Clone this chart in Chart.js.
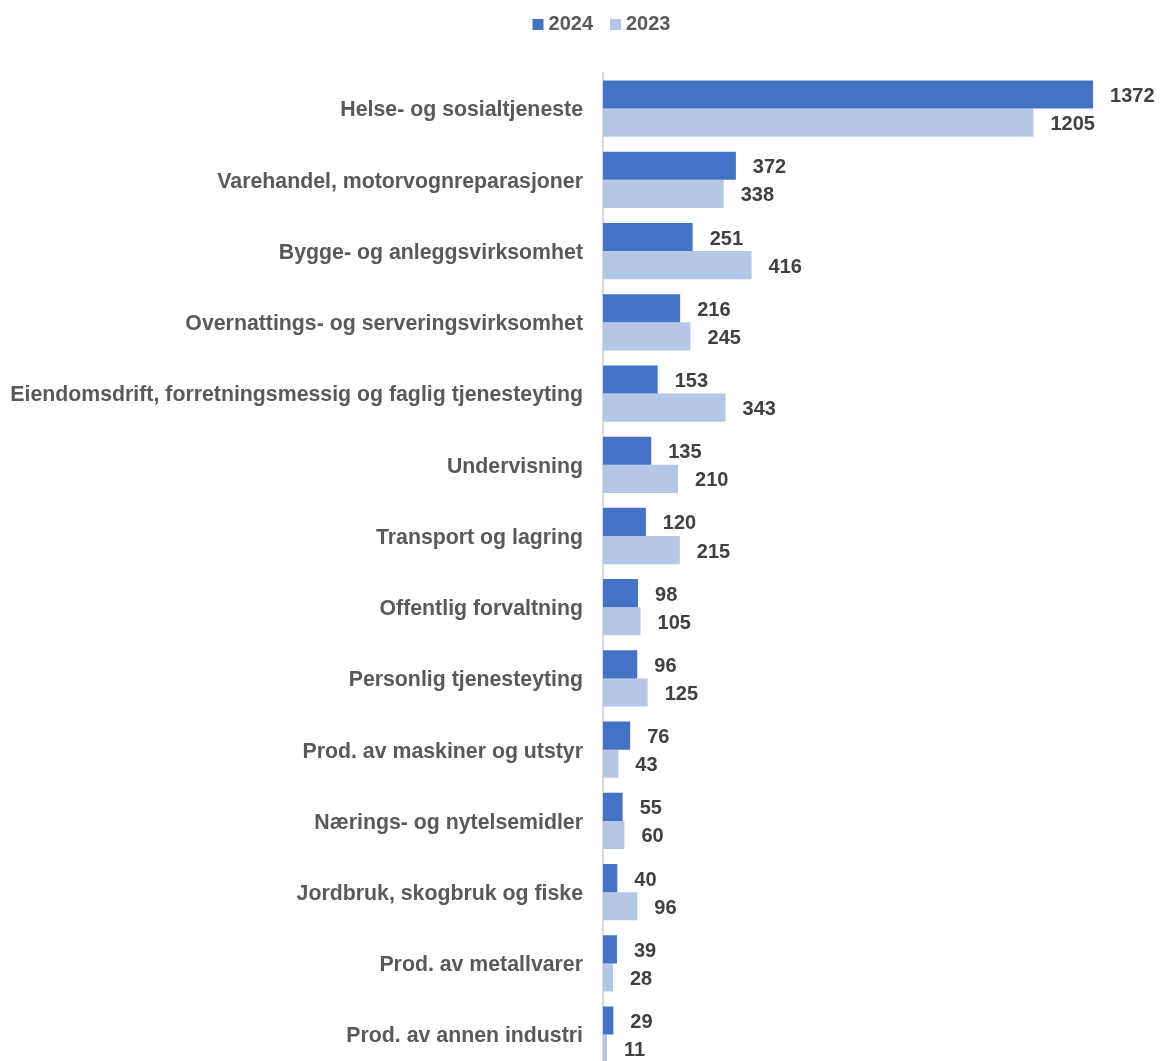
<!DOCTYPE html>
<html>
<head>
<meta charset="utf-8">
<script src="https://cdn.jsdelivr.net/npm/chart.js@4"></script>
<style>
  html, body { margin: 0; padding: 0; background: #fff; overflow: hidden; }
  canvas { display: block; }
</style>
</head>
<body>
<canvas id="chart" width="1162" height="1103"></canvas>
<script>
const categories = [
  'Helse- og sosialtjeneste',
  'Varehandel, motorvognreparasjoner',
  'Bygge- og anleggsvirksomhet',
  'Overnattings- og serveringsvirksomhet',
  'Eiendomsdrift, forretningsmessig og faglig tjenesteyting',
  'Undervisning',
  'Transport og lagring',
  'Offentlig forvaltning',
  'Personlig tjenesteyting',
  'Prod. av maskiner og utstyr',
  'Nærings- og nytelsemidler',
  'Jordbruk, skogbruk og fiske',
  'Prod. av metallvarer',
  'Prod. av annen industri'
];
const values2024 = [1372, 372, 251, 216, 153, 135, 120, 98, 96, 76, 55, 40, 39, 29];
const values2023 = [1205, 338, 416, 245, 343, 210, 215, 105, 125, 43, 60, 96, 28, 11];

const FONT = '"Liberation Sans", Arial, sans-serif';

// value labels to the right of each bar
const barLabels = {
  id: 'barLabels',
  afterDatasetsDraw(chart) {
    const ctx = chart.ctx;
    ctx.save();
    ctx.font = 'bold 20px ' + FONT;
    ctx.fillStyle = '#404040';
    ctx.textAlign = 'left';
    ctx.textBaseline = 'middle';
    chart.data.datasets.forEach((ds, i) => {
      const meta = chart.getDatasetMeta(i);
      meta.data.forEach((bar, j) => {
        ctx.fillText(String(ds.data[j]), bar.x + 17, bar.y + 2);
      });
    });
    ctx.restore();
  }
};

// legend drawn by hand: small square, tight gap, centred over x = 601
const topLegend = {
  id: 'topLegend',
  afterDraw(chart) {
    const ctx = chart.ctx;
    ctx.save();
    ctx.font = 'bold 20px ' + FONT;
    ctx.textBaseline = 'middle';
    ctx.textAlign = 'left';
    const box = 11, gap = 5, itemGap = 17;
    const items = chart.data.datasets.map(ds => ({ text: ds.label, color: ds.backgroundColor, w: ctx.measureText(ds.label).width }));
    const total = items.reduce((s, it) => s + box + gap + it.w, 0) + itemGap * (items.length - 1);
    let x = 601.5 - total / 2;
    const y = 24;
    items.forEach(it => {
      ctx.fillStyle = it.color;
      ctx.fillRect(x, y - 5, box, box);
      ctx.fillStyle = '#595959';
      ctx.fillText(it.text, x + box + gap, y);
      x += box + gap + it.w + itemGap;
    });
    ctx.restore();
  }
};

new Chart(document.getElementById('chart'), {
  type: 'bar',
  data: {
    labels: categories,
    datasets: [
      { label: '2024', data: values2024, backgroundColor: '#4472C4', categoryPercentage: 0.79, barPercentage: 1 },
      { label: '2023', data: values2023, backgroundColor: '#B4C7E7', categoryPercentage: 0.79, barPercentage: 1 }
    ]
  },
  options: {
    indexAxis: 'y',
    responsive: false,
    animation: false,
    layout: { padding: { top: 73, left: 0, right: 0, bottom: 0 } },
    plugins: {
      legend: { display: false },
      tooltip: { enabled: false }
    },
    scales: {
      x: {
        display: false,
        min: 0,
        max: 1565
      },
      y: {
        grid: { display: false, drawTicks: false },
        border: { display: true, color: '#d9d9d9', width: 2 },
        ticks: {
          padding: 20,
          labelOffset: 2,
          color: '#595959',
          font: { family: FONT, size: 21.3, weight: 'bold' }
        },
        afterFit(scale) { scale.width = 603; }
      }
    }
  },
  plugins: [barLabels, topLegend]
});
</script>
</body>
</html>
